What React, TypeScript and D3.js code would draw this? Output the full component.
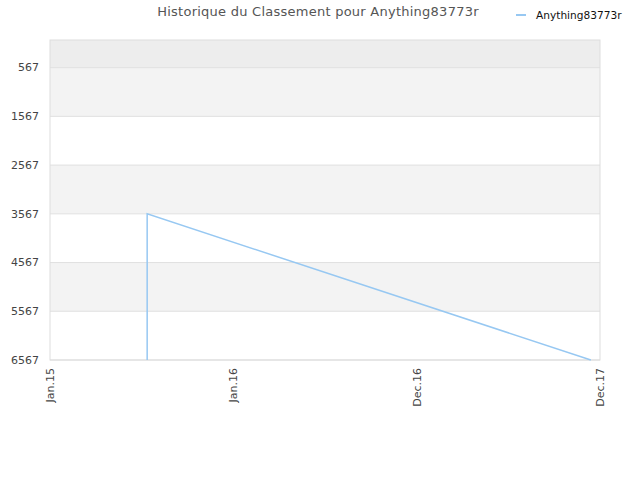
import React, { useEffect, useRef } from 'react';
import * as d3 from 'd3';

// x positions are measured in label slots (0 = Jan.15 ... 3 = Dec.17)
const tickLabels = ['Jan.15', 'Jan.16', 'Dec.16', 'Dec.17'];
const rankTicks = [567, 1567, 2567, 3567, 4567, 5567, 6567];
const pointSlots = [0.53, 0.53, 2.95];
const pointRanks = [6567, 3567, 6567];
const seriesName = 'Anything83773r';

const W = 640;
const H = 480;
const margin = { top: 40, right: 40, bottom: 120, left: 50 };

const App: React.FC = () => {
  const svgRef = useRef<SVGSVGElement>(null);

  useEffect(() => {
    if (!svgRef.current) return;
    const svg = d3.select(svgRef.current);
    svg.selectAll('*').remove();

    const cw = W - margin.left - margin.right;
    const ch = H - margin.top - margin.bottom;
    const font = '"DejaVu Sans", sans-serif';

    const x = d3.scaleLinear().domain([0, tickLabels.length - 1]).range([0, cw]);
    const y = d3.scaleLinear().domain([0, 6567]).range([0, ch]);

    const g = svg.append('g').attr('transform', `translate(${margin.left},${margin.top})`);

    // Background bands
    const edges = [0, ...rankTicks];
    for (let i = 0; i < edges.length - 1; i++) {
      const fill = i === 0 ? '#ededed' : i % 2 === 1 ? '#f3f3f3' : '#ffffff';
      g.append('rect')
        .attr('x', 0)
        .attr('y', y(edges[i]))
        .attr('width', cw)
        .attr('height', y(edges[i + 1]) - y(edges[i]))
        .attr('fill', fill);
    }

    // Grid lines
    g.selectAll('.grid')
      .data(rankTicks)
      .enter()
      .append('line')
      .attr('x1', 0)
      .attr('x2', cw)
      .attr('y1', d => y(d))
      .attr('y2', d => y(d))
      .attr('stroke', '#e0e0e0')
      .attr('stroke-width', 1);

    // Border
    g.append('rect')
      .attr('x', 0)
      .attr('y', 0)
      .attr('width', cw)
      .attr('height', ch)
      .attr('fill', 'none')
      .attr('stroke', '#dddddd')
      .attr('stroke-width', 1);

    // Line
    const pts = pointSlots.map((s, i) => [s, pointRanks[i]] as [number, number]);
    const line = d3.line<[number, number]>()
      .x(d => x(d[0]))
      .y(d => y(d[1]));
    g.append('path')
      .datum(pts)
      .attr('fill', 'none')
      .attr('stroke', '#97c8f2')
      .attr('stroke-width', 1.5)
      .attr('d', line);

    // Y axis labels
    g.selectAll('.ylab')
      .data(rankTicks)
      .enter()
      .append('text')
      .attr('x', -11)
      .attr('y', d => y(d))
      .attr('dy', '0.35em')
      .attr('text-anchor', 'end')
      .style('font-family', font)
      .style('font-size', '11px')
      .style('fill', '#444')
      .text(d => String(d));

    // X axis labels
    g.selectAll('.xlab')
      .data(tickLabels)
      .enter()
      .append('text')
      .attr('transform', (_, i) => `translate(${x(i)},${ch + 8}) rotate(-90)`)
      .attr('dy', '0.35em')
      .attr('text-anchor', 'end')
      .style('font-family', font)
      .style('font-size', '11px')
      .style('fill', '#444')
      .text(d => d);

    // Title
    svg.append('text')
      .attr('x', 318)
      .attr('y', 16)
      .attr('text-anchor', 'middle')
      .style('font-family', font)
      .style('font-size', '13px')
      .style('letter-spacing', '0.25px')
      .style('fill', '#555')
      .text(`Historique du Classement pour ${seriesName}`);

    // Legend
    const lg = svg.append('g').attr('transform', 'translate(516,15)');
    lg.append('line')
      .attr('x1', 0)
      .attr('x2', 10)
      .attr('y1', 0)
      .attr('y2', 0)
      .attr('stroke', '#97c8f2')
      .attr('stroke-width', 2);
    lg.append('text')
      .attr('x', 20)
      .attr('y', 0)
      .attr('dy', '0.35em')
      .style('font-family', font)
      .style('font-size', '10.6px')
      .style('fill', '#111')
      .text(seriesName);
  }, []);

  return <svg ref={svgRef} width={W} height={H} style={{ position: 'absolute', left: 0, top: 0 }} />;
};

export default App;
